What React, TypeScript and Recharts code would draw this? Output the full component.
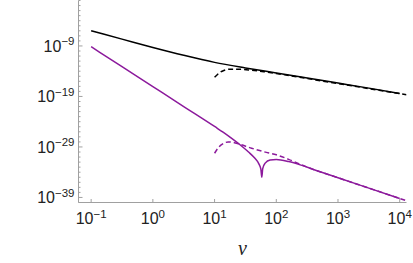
import React from "react";
import { Label, Line, LineChart, XAxis, YAxis } from "recharts";

// all values are log10 exponents, the axes are logarithmic
const FRAME = "#a0a0a0";
const BLACK = "#000000";
const PURPLE = "#8c1a9c";

const X_TICK_EXP = [-1, 0, 1, 2, 3, 4];
const Y_MAJOR_EXP = [-39, -29, -19, -9];
const X_DOMAIN_EXP = [-1.205, 4.11];
const Y_DOMAIN_EXP = [-40, 0];

const BLACK_SOLID_V = [-1, -0.5, 0, 0.5, 1, 1.5, 2, 2.5, 3, 3.5, 4];
const BLACK_SOLID_Y = [-6.0, -7.65, -9.3, -10.85, -12.25, -13.35, -14.35, -15.35, -16.35, -17.35, -18.4];

const BLACK_DASH_V = [1.0, 1.08, 1.15, 1.25, 1.4, 1.6, 1.8, 2.0, 2.5, 3, 3.5, 4, 4.11];
const BLACK_DASH_Y = [-15.2, -14.3, -13.85, -13.6, -13.6, -13.8, -14.1, -14.45, -15.45, -16.45, -17.45, -18.45, -18.65];

const PURPLE_SOLID_V = [-1, -0.5, 0, 0.5, 1, 1.2, 1.4, 1.55, 1.65, 1.72, 1.75, 1.765, 1.78, 1.82, 1.9, 2.0, 2.2, 2.4, 2.6, 3, 3.5, 4];
const PURPLE_SOLID_Y = [-9.15, -13.1, -17.05, -21.0, -24.95, -26.6, -28.45, -30.0, -31.2, -32.4, -33.4, -35.0, -33.3, -32.2, -31.6, -31.5, -31.9, -32.6, -33.45, -35.1, -37.15, -39.2];

const PURPLE_DASH_V = [1.0, 1.07, 1.14, 1.22, 1.3, 1.4, 1.6, 1.8, 2.0, 2.2, 2.4, 2.6, 3, 3.5, 4, 4.11];
const PURPLE_DASH_Y = [-30.25, -29.0, -28.35, -28.0, -28.1, -28.45, -29.25, -29.95, -30.55, -31.45, -32.5, -33.45, -35.1, -37.15, -39.2, -39.65];

const toPoints = (vs: number[], ys: number[]) => vs.map((v, i) => ({ v: 10 ** v, y: 10 ** ys[i] }));

const yTicks: number[] = [];
for (let e = Y_DOMAIN_EXP[0]; e <= Y_DOMAIN_EXP[1]; e++) yTicks.push(10 ** e);
const xTicks = X_TICK_EXP.map((e) => 10 ** e);

const LABEL_FONT = "'Liberation Sans', Arial, sans-serif";

function Pow({ x, y, e, anchor }: { x: number; y: number; e: number; anchor: "end" | "middle" }) {
  return (
    <text x={x} y={y} textAnchor={anchor} fontFamily={LABEL_FONT} fontSize={16} fill="#222">
      <tspan>10</tspan>
      <tspan dy={-6.5} fontSize={11.5}>{e < 0 ? `\u2212${-e}` : `${e}`}</tspan>
    </text>
  );
}

function LeftTick(props: any) {
  const { x, y, payload } = props;
  const e = Math.round(Math.log10(payload.value));
  const major = Y_MAJOR_EXP.includes(e);
  return (
    <g>
      <line x1={x} x2={x + (major ? 4 : 2)} y1={y} y2={y} stroke={FRAME} />
      {major && <Pow x={x - 4} y={y + 5.8} e={e} anchor="end" />}
    </g>
  );
}

function RightTick(props: any) {
  const { x, y, payload } = props;
  const e = Math.round(Math.log10(payload.value));
  const major = Y_MAJOR_EXP.includes(e);
  return <line x1={x} x2={x - (major ? 4 : 2)} y1={y} y2={y} stroke={FRAME} />;
}

function BottomTick(props: any) {
  const { x, y, payload } = props;
  const e = Math.round(Math.log10(payload.value));
  return (
    <g>
      <line x1={x} x2={x} y1={y} y2={y - 3.5} stroke={FRAME} />
      <Pow x={x} y={y + 21.5} e={e} anchor="middle" />
    </g>
  );
}

export default function App() {
  const xDomain = X_DOMAIN_EXP.map((e) => 10 ** e);
  const yDomain = Y_DOMAIN_EXP.map((e) => 10 ** e);
  return (
    <div style={{ position: "absolute", left: 0, top: 0, width: 413, height: 263, background: "#fff" }}>
      <LineChart width={413} height={263} margin={{ top: 0.5, right: 6.5, left: 0, bottom: 0 }}>
        <XAxis
          dataKey="v"
          type="number"
          scale="log"
          domain={xDomain}
          allowDataOverflow
          ticks={xTicks}
          interval={0}
          height={60.5}
          tickSize={0}
          tickMargin={0}
          tickLine={false}
          axisLine={{ stroke: FRAME }}
          tick={<BottomTick />}
        >
          <Label
            content={({ viewBox }: any) => (
              <text
                x={viewBox.x + viewBox.width / 2}
                y={viewBox.y + 52.5}
                textAnchor="middle"
                fontFamily="'Liberation Serif', 'Times New Roman', serif"
                fontStyle="italic"
                fontSize={20}
                fill="#222"
              >
                v
              </text>
            )}
          />
        </XAxis>
        <XAxis
          xAxisId="top"
          orientation="top"
          type="number"
          scale="log"
          domain={xDomain}
          allowDataOverflow
          height={0}
          tick={false}
          tickLine={false}
          axisLine={{ stroke: FRAME }}
        />
        <YAxis
          type="number"
          scale="log"
          domain={yDomain}
          allowDataOverflow
          ticks={yTicks}
          interval={0}
          width={78.5}
          tickSize={0}
          tickMargin={0}
          tickLine={false}
          axisLine={{ stroke: FRAME }}
          tick={<LeftTick />}
        />
        <YAxis
          yAxisId="right"
          orientation="right"
          type="number"
          scale="log"
          domain={yDomain}
          allowDataOverflow
          ticks={yTicks}
          interval={0}
          width={0}
          tickSize={0}
          tickMargin={0}
          tickLine={false}
          axisLine={{ stroke: FRAME }}
          tick={<RightTick />}
        />
        <Line data={toPoints(BLACK_SOLID_V, BLACK_SOLID_Y)} dataKey="y" type="monotone" stroke={BLACK} strokeWidth={1.5} dot={false} activeDot={false} isAnimationActive={false} />
        <Line data={toPoints(BLACK_DASH_V, BLACK_DASH_Y)} dataKey="y" type="monotone" stroke={BLACK} strokeWidth={1.5} strokeDasharray="5 3" dot={false} activeDot={false} isAnimationActive={false} />
        <Line data={toPoints(PURPLE_SOLID_V, PURPLE_SOLID_Y)} dataKey="y" type="monotone" stroke={PURPLE} strokeWidth={1.5} dot={false} activeDot={false} isAnimationActive={false} />
        <Line data={toPoints(PURPLE_DASH_V, PURPLE_DASH_Y)} dataKey="y" type="monotone" stroke={PURPLE} strokeWidth={1.5} strokeDasharray="5 3" dot={false} activeDot={false} isAnimationActive={false} />
      </LineChart>
    </div>
  );
}
